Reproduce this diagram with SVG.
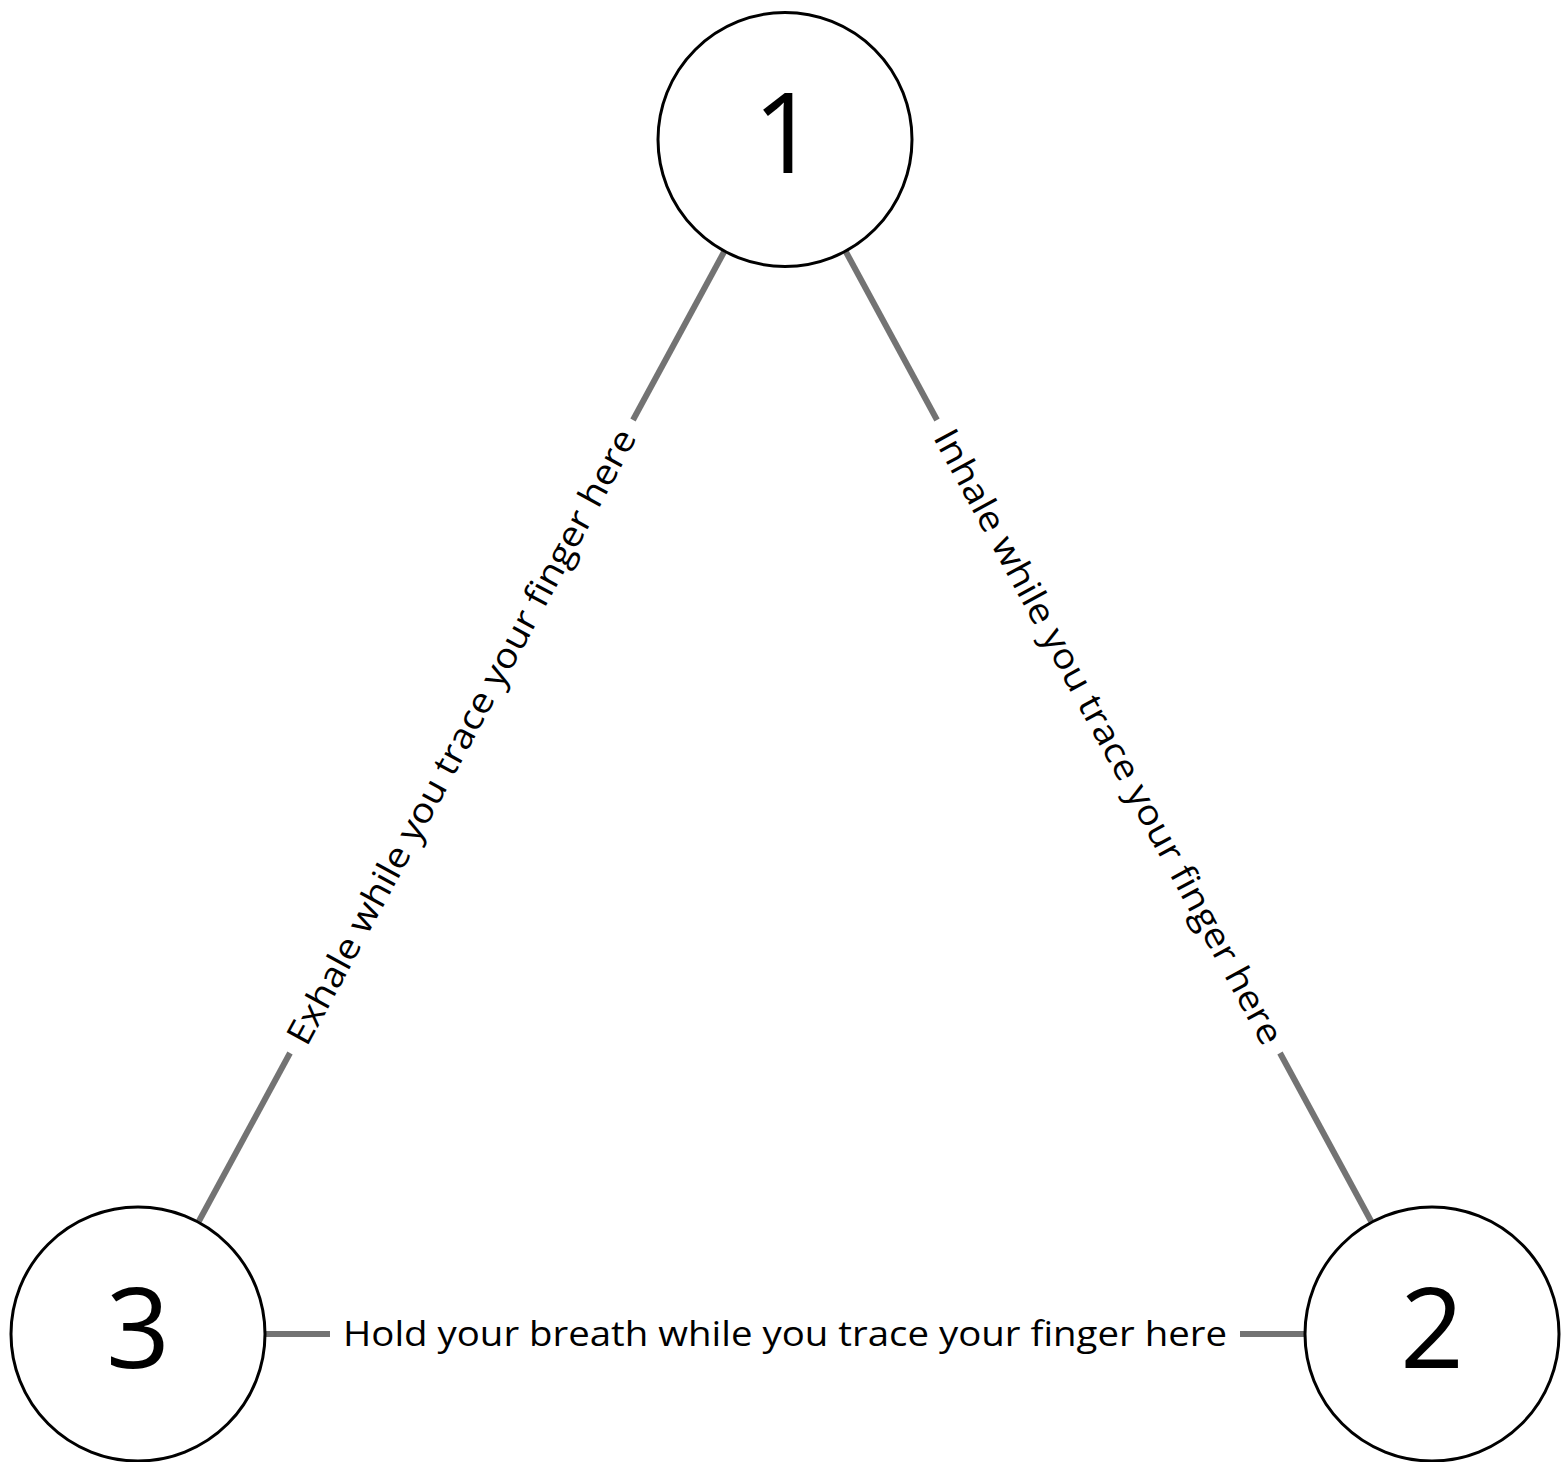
<svg xmlns="http://www.w3.org/2000/svg" width="1565" height="1462" viewBox="0 0 1565 1462">
  <style>
    .node circle { fill: #ffffff; stroke: #000000; stroke-width: 3; }
    .num { font-family: "Open Sans", "Noto Sans", sans-serif; font-size: 112px; fill: #000000; text-anchor: middle; }
    .edge line { stroke: #737373; stroke-width: 6; }
    .lbl { font-family: "Open Sans", "Noto Sans", sans-serif; font-size: 35px; fill: #000000; text-anchor: middle; }
  </style>
  <rect width="1565" height="1462" fill="#ffffff"/>

  <!-- connectors and their labels -->
  <g id="connectors" class="edge">
    <!-- 1 to 3 -->
    <line x1="724" y1="252" x2="633" y2="420"/>
    <line x1="290" y1="1053" x2="199" y2="1221"/>
    <!-- 1 to 2 -->
    <line x1="846" y1="252" x2="937" y2="420"/>
    <line x1="1280" y1="1053" x2="1371" y2="1221"/>
    <!-- 3 to 2 -->
    <line x1="266" y1="1334" x2="330" y2="1334"/>
    <line x1="1240" y1="1334" x2="1304" y2="1334"/>
    <text class="lbl" transform="translate(461.5 736.75) rotate(-61.56)" x="0" y="12" textLength="694" lengthAdjust="spacingAndGlyphs">Exhale while you trace your finger here</text>
    <text class="lbl" transform="translate(1108.5 736.75) rotate(61.56)" x="0" y="12" textLength="694" lengthAdjust="spacingAndGlyphs">Inhale while you trace your finger here</text>
    <text class="lbl" x="785" y="1346" textLength="884" lengthAdjust="spacingAndGlyphs">Hold your breath while you trace your finger here</text>
  </g>

  <g id="node-1" class="node">
    <circle cx="785" cy="139.5" r="127"/>
    <text class="num" x="785" y="173">1</text>
  </g>
  <g id="node-2" class="node">
    <circle cx="1432" cy="1334" r="127"/>
    <text class="num" x="1432" y="1368">2</text>
  </g>
  <g id="node-3" class="node">
    <circle cx="138" cy="1334" r="127"/>
    <text class="num" x="138" y="1368">3</text>
  </g>
</svg>
